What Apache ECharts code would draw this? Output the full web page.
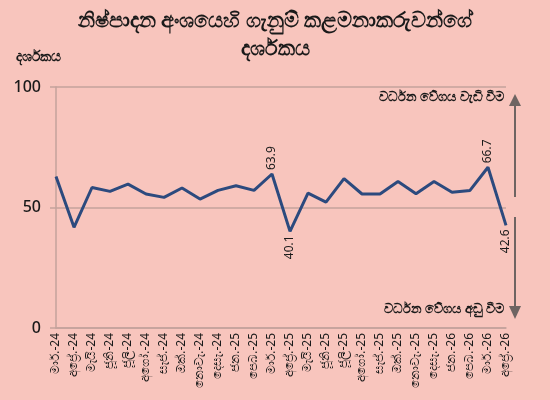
<!DOCTYPE html>
<html>
<head>
<meta charset="utf-8">
<script src="https://cdn.jsdelivr.net/npm/echarts@6/dist/echarts.min.js"></script>
<style>
  html, body { margin: 0; padding: 0; background: #f8c5bd; }
  #chart { width: 550px; height: 400px; }
</style>
</head>
<body>
<div id="chart"></div>
<script>
// මාස (Mar-24 .. Apr-26)
var months = ['මාර්.-24', 'අප්‍රේ.-24', 'මැයි-24', 'ජූනි-24', 'ජූලි-24', 'අගෝ.-24', 'සැප්.-24', 'ඔක්.-24', 'නොවැ.-24', 'දෙසැ.-24',
  'ජන.-25', 'පෙබ.-25', 'මාර්.-25', 'අප්‍රේ.-25', 'මැයි-25', 'ජූනි-25', 'ජූලි-25', 'අගෝ.-25', 'සැප්.-25', 'ඔක්.-25', 'නොවැ.-25', 'දෙසැ.-25',
  'ජන.-26', 'පෙබ.-26', 'මාර්.-26', 'අප්‍රේ.-26'];
// PMI values
var pmiValues = [62.9, 41.8, 58.3, 56.7, 59.7, 55.6, 54.2, 58.1, 53.5, 57.1, 59.0, 57.1, 63.9,
  40.1, 56.0, 52.2, 62.0, 55.6, 55.6, 60.8, 55.7, 60.8, 56.3, 57.1, 66.7, 42.6];
// labelled points
var labelTop = [12, 24];
var labelBottom = [13, 25];
var yTicks = [0, 50, 100];

var titleText = 'නිෂ්පාදන අංශයෙහි ගැනුම් කළමනාකරුවන්ගේ\nදර්ශකය';
var yName = 'දර්ශකය';
var upText = 'වර්ධන වේගය වැඩි වීම';
var downText = 'වර්ධන වේගය අඩු වීම';

var font = '"Noto Sans", "Open Sans", sans-serif';
var gridColor = '#c4a29c';
var arrowColor = '#6e6462';

var seriesData = pmiValues.map(function (v, i) {
  var item = { value: v };
  if (labelTop.indexOf(i) >= 0) {
    item.label = { show: true, position: 'top', distance: 4, rotate: 90, align: 'left', verticalAlign: 'middle' };
  } else if (labelBottom.indexOf(i) >= 0) {
    item.label = { show: true, position: 'bottom', distance: 4, rotate: 90, align: 'right', verticalAlign: 'middle' };
  }
  return item;
});

var chart = echarts.init(document.getElementById('chart'));
var option = {
  backgroundColor: '#f8c5bd',
  animation: false,
  title: {
    text: titleText,
    left: 'center',
    top: 2,
    textStyle: { fontFamily: font, fontSize: 21, fontWeight: 'bold', color: '#1a1a1a', lineHeight: 28 }
  },
  grid: { left: 56, right: 44, top: 87, bottom: 72 },
  xAxis: {
    type: 'category',
    data: months,
    boundaryGap: false,
    axisLine: { show: true, lineStyle: { color: gridColor, width: 1.5 } },
    axisTick: { show: false },
    axisLabel: { rotate: 90, interval: 0, margin: 5, fontFamily: font, fontSize: 12, color: '#1a1a1a' }
  },
  yAxis: {
    type: 'value',
    min: yTicks[0],
    max: yTicks[yTicks.length - 1],
    interval: 50,
    axisLine: { show: true, lineStyle: { color: gridColor, width: 1.5 } },
    axisTick: { show: true, length: 6, lineStyle: { color: gridColor, width: 1.5 } },
    axisLabel: { margin: 15, fontFamily: font, fontSize: 16, fontWeight: 500, color: '#1a1a1a' },
    splitLine: { show: true, lineStyle: { color: gridColor, width: 1.5 } }
  },
  series: [{
    type: 'line',
    data: seriesData,
    symbol: 'circle',
    symbolSize: 0,
    showSymbol: true,
    lineStyle: { color: '#2c4a7e', width: 3 },
    itemStyle: { color: '#2c4a7e' },
    label: { fontFamily: font, fontSize: 12, color: '#1a1a1a' }
  }],
  graphic: [
    { type: 'text', left: 16, top: 50, style: { text: yName, font: 'bold 14px ' + font, fill: '#1a1a1a' } },
    { type: 'text', right: 46, top: 91, style: { text: upText, font: 'bold 13px ' + font, fill: '#1a1a1a' } },
    { type: 'text', right: 46, top: 303, style: { text: downText, font: 'bold 13px ' + font, fill: '#1a1a1a' } },
    // up arrow
    { type: 'line', shape: { x1: 515, y1: 104, x2: 515, y2: 197 }, style: { stroke: arrowColor, lineWidth: 2 } },
    { type: 'polygon', shape: { points: [[515, 94], [509, 106], [521, 106]] }, style: { fill: arrowColor } },
    // down arrow
    { type: 'line', shape: { x1: 515, y1: 217, x2: 515, y2: 308 }, style: { stroke: arrowColor, lineWidth: 2 } },
    { type: 'polygon', shape: { points: [[515, 319], [509, 306], [521, 306]] }, style: { fill: arrowColor } }
  ]
};
option && chart.setOption(option);
</script>
</body>
</html>
